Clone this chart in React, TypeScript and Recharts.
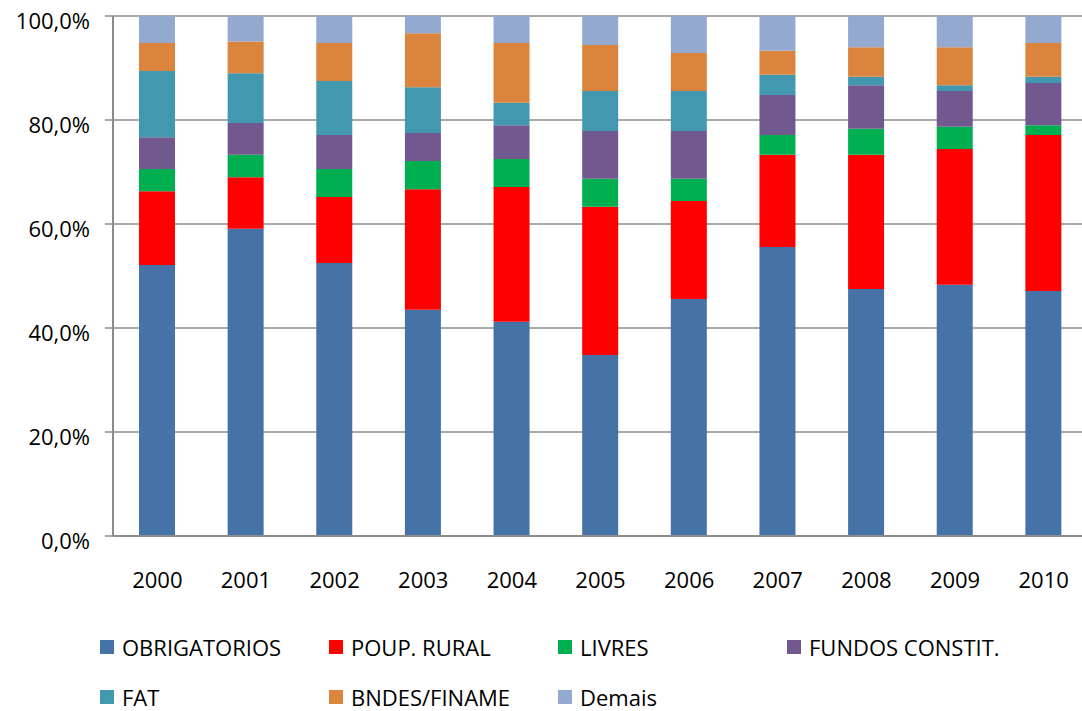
import React from "react";
import { BarChart, Bar, XAxis, YAxis, CartesianGrid } from "recharts";

// Share of each funding source per year (%)
const years = ["2000", "2001", "2002", "2003", "2004", "2005", "2006", "2007", "2008", "2009", "2010"];
const obrigatorios = [52.1, 59.1, 52.5, 43.5, 41.2, 34.8, 45.6, 55.6, 47.5, 48.3, 47.1];
const poupRural = [14.2, 9.9, 12.7, 23.2, 25.9, 28.5, 18.8, 17.7, 25.8, 26.1, 30.0];
const livres = [4.3, 4.3, 5.4, 5.4, 5.4, 5.4, 4.3, 3.8, 5.0, 4.3, 1.9];
const fundosConstit = [6.1, 6.1, 6.5, 5.4, 6.5, 9.2, 9.2, 7.7, 8.4, 6.9, 8.1];
const fat = [12.7, 9.6, 10.4, 8.8, 4.3, 7.7, 7.7, 3.9, 1.6, 1.1, 1.2];
const bndesFiname = [5.4, 6.1, 7.3, 10.4, 11.5, 8.8, 7.3, 4.6, 5.7, 7.3, 6.5];
const demais = [5.2, 4.9, 5.2, 3.3, 5.2, 5.6, 7.1, 6.7, 6.0, 6.0, 5.2];

const yTicks = [0, 0.2, 0.4, 0.6, 0.8, 1];

const series = [
  { key: "obrigatorios", name: "OBRIGATORIOS", color: "#4572A7", values: obrigatorios },
  { key: "poupRural", name: "POUP. RURAL", color: "#FF0000", values: poupRural },
  { key: "livres", name: "LIVRES", color: "#00B050", values: livres },
  { key: "fundosConstit", name: "FUNDOS CONSTIT.", color: "#71588F", values: fundosConstit },
  { key: "fat", name: "FAT", color: "#4198AF", values: fat },
  { key: "bndesFiname", name: "BNDES/FINAME", color: "#DB843D", values: bndesFiname },
  { key: "demais", name: "Demais", color: "#93A9CF", values: demais },
];

const data = years.map((year, i) => {
  const row: Record<string, string | number> = { year };
  series.forEach((s) => {
    row[s.key] = s.values[i];
  });
  return row;
});

const FONT = "'Open Sans', sans-serif";
const GRID = "#8c8c8c";

const pct = (v: number) => (v * 100).toFixed(1).replace(".", ",") + "%";

function YTick({ x, y, payload }: any) {
  return (
    <text x={x} y={y + 4} textAnchor="end" dominantBaseline="central" fontSize={22} fill="#000" fontFamily={FONT}>
      {pct(payload.value)}
    </text>
  );
}

function LegendBlock() {
  return (
    <div style={{ position: "absolute", left: 0, top: 0, width: 1082, height: 711, pointerEvents: "none" }}>
      {series.map((s, i) => {
        const col = i % 4;
        const row = Math.floor(i / 4);
        const left = 100 + col * 229;
        const cy = 647 + row * 50;
        return (
          <div
            key={s.key}
            style={{ position: "absolute", left, top: cy - 15, height: 30, display: "flex", alignItems: "center", whiteSpace: "nowrap" }}
          >
            <span style={{ width: 14, height: 14, background: s.color, display: "inline-block", marginRight: 8 }} />
            <span style={{ fontSize: 22, color: "#000", fontFamily: FONT }}>{s.name}</span>
          </div>
        );
      })}
    </div>
  );
}

export default function App() {
  return (
    <div
      style={{
        position: "absolute",
        left: 0,
        top: 0,
        width: 1082,
        height: 711,
        overflow: "hidden",
        background: "#fff",
        fontFamily: FONT,
      }}
    >
      <BarChart
        width={1088}
        height={600}
        data={data}
        stackOffset="expand"
        barSize={36}
        margin={{ top: 16, right: 0, bottom: 0, left: 0 }}
      >
        <CartesianGrid vertical={false} stroke={GRID} strokeWidth={1.5} />
        <XAxis
          dataKey="year"
          height={64}
          axisLine={{ stroke: GRID, strokeWidth: 2 }}
          tickLine={false}
          tickSize={0}
          tickMargin={36}
          tick={{ fill: "#000", fontSize: 22, fontFamily: FONT }}
        />
        <YAxis
          width={113}
          domain={[0, 1]}
          ticks={yTicks}
          axisLine={{ stroke: GRID, strokeWidth: 2 }}
          tickLine={{ stroke: GRID, strokeWidth: 1.5 }}
          tickSize={8}
          tickMargin={15}
          tick={<YTick />}
        />
        {series.map((s) => (
          <Bar key={s.key} dataKey={s.key} name={s.name} stackId="a" fill={s.color} isAnimationActive={false} />
        ))}
      </BarChart>
      <LegendBlock />
    </div>
  );
}
